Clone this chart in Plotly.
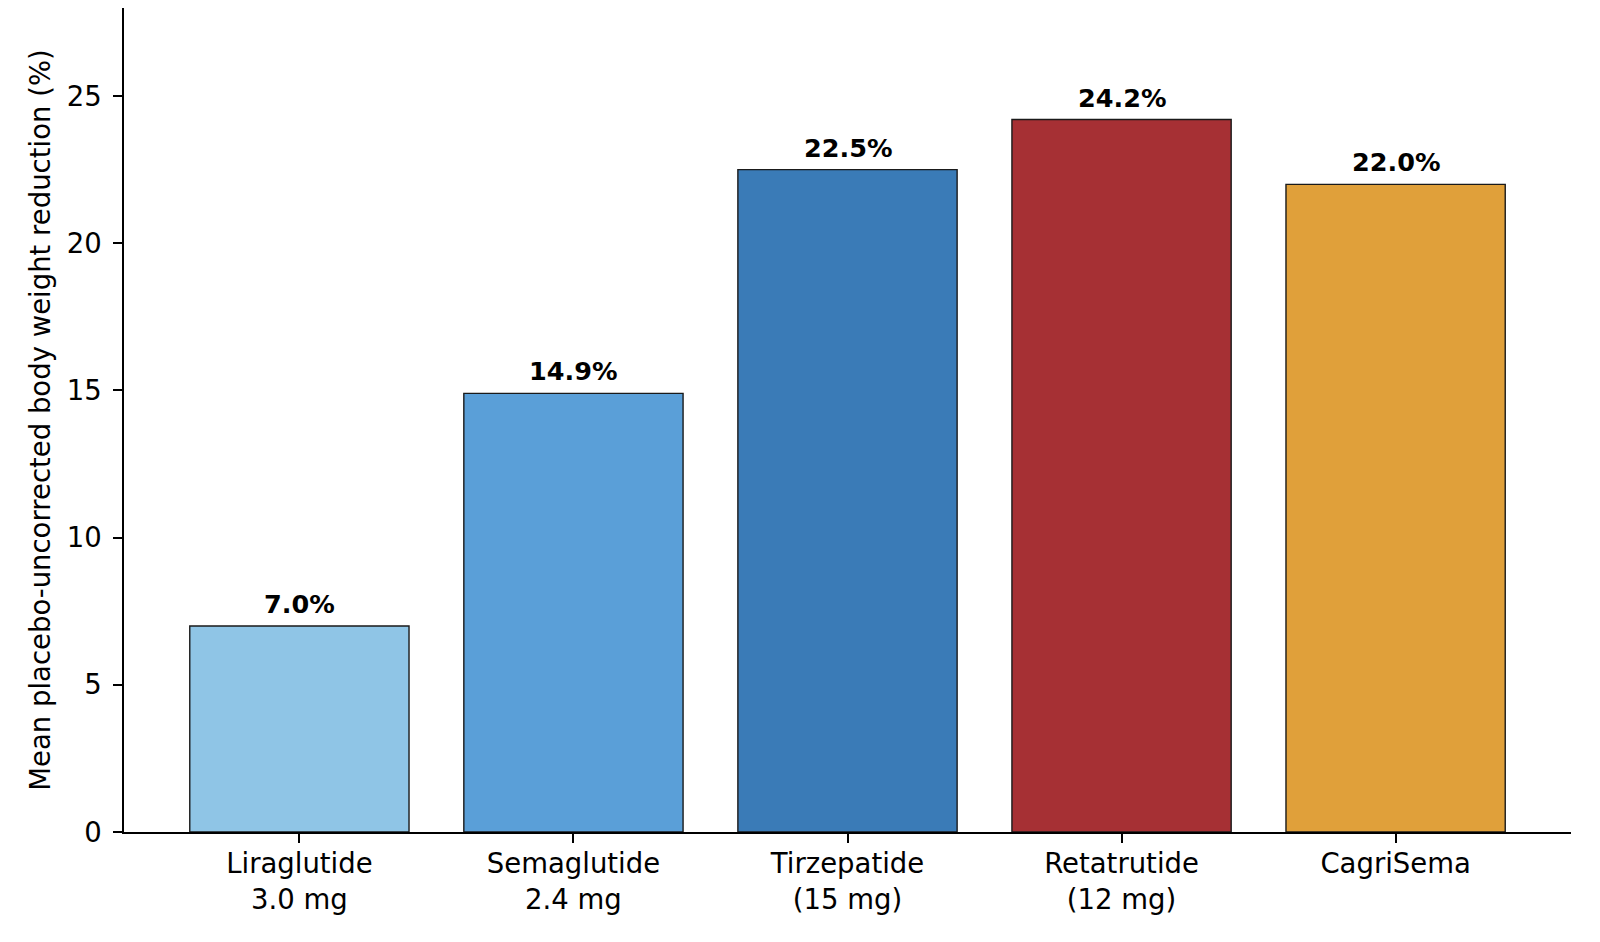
import plotly.graph_objects as go

# Data
drugs = ["Liraglutide<br>3.0 mg", "Semaglutide<br>2.4 mg", "Tirzepatide<br>(15 mg)",
         "Retatrutide<br>(12 mg)", "CagriSema"]
reduction = [7.0, 14.9, 22.5, 24.2, 22.0]
bar_colors = ["#8FC5E6", "#5A9FD8", "#3A7BB7", "#A63034", "#E0A03A"]
y_ticks = [0, 5, 10, 15, 20, 25]

FONT = "DejaVu Sans, sans-serif"

fig = go.Figure(go.Bar(
    x=list(range(len(drugs))),
    y=reduction,
    width=0.8,
    marker=dict(color=bar_colors, line=dict(color="#1a1a1a", width=1.4)),
))

# value labels above each bar
for i, v in enumerate(reduction):
    fig.add_annotation(
        x=i, y=v, text=f"<b>{v:.1f}%</b>", showarrow=False,
        yanchor="bottom", yshift=5,
        font=dict(family=FONT, size=25.5, color="black"),
    )

# page body has an 8px margin, so keep the figure inside the 1600x942 window
fig.update_layout(
    width=1584, height=926,
    paper_bgcolor="white", plot_bgcolor="white",
    font=dict(family=FONT, size=27.5, color="black"),
    margin=dict(l=116, r=21, t=0, b=102),
    showlegend=False,
    xaxis=dict(
        range=[-0.64, 4.64],
        tickmode="array", tickvals=list(range(len(drugs))), ticktext=drugs,
        showline=True, linecolor="black", linewidth=1.7,
        ticks="outside", ticklen=9, tickwidth=1.6, tickcolor="black",
        ticklabelstandoff=-3,
        showgrid=False, zeroline=False, automargin=False,
        tickfont=dict(size=27.5),
    ),
    yaxis=dict(
        range=[0, 27.99],
        tickmode="array", tickvals=y_ticks,
        showline=True, linecolor="black", linewidth=1.7,
        ticks="outside", ticklen=9, tickwidth=1.6, tickcolor="black",
        ticklabelstandoff=6,
        showgrid=False, zeroline=False, automargin=False,
        tickfont=dict(size=27.5),
        title=dict(text="Mean placebo-uncorrected body weight reduction (%)",
                   font=dict(size=27.5), standoff=8),
    ),
)

fig.write_html("out.html")
